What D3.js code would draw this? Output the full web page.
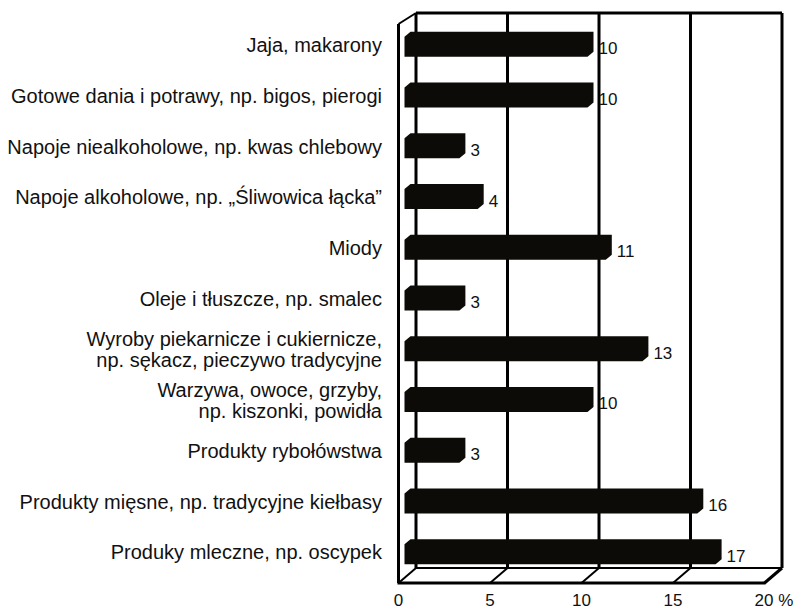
<!DOCTYPE html>
<html>
<head>
<meta charset="utf-8">
<script src="https://cdn.jsdelivr.net/npm/d3@7"></script>
<style>
  body { margin: 0; background: #fff; }
  text { font-family: "Liberation Sans", Arial, sans-serif; fill: #111; }
</style>
</head>
<body>
<div id="chart"></div>
<script>
// categories top to bottom, each entry is a list of label lines
const categories = [
    ["Jaja, makarony"],
    ["Gotowe dania i potrawy, np. bigos, pierogi"],
    ["Napoje niealkoholowe, np. kwas chlebowy"],
    ["Napoje alkoholowe, np. \u201E\u015Aliwowica \u0142\u0105cka\u201D"],
    ["Miody"],
    ["Oleje i t\u0142uszcze, np. smalec"],
    ["Wyroby piekarnicze i cukiernicze,", "np. s\u0119kacz, pieczywo tradycyjne"],
    ["Warzywa, owoce, grzyby,", "np. kiszonki, powid\u0142a"],
    ["Produkty rybo\u0142\u00F3wstwa"],
    ["Produkty mi\u0119sne, np. tradycyjne kie\u0142basy"],
    ["Produky mleczne, np. oscypek"]
];
const values = [10, 10, 3, 4, 11, 3, 13, 10, 3, 16, 17];
const ticks = [0, 5, 10, 15, 20];
const tickLabels = ["0", "5", "10", "15", "20 %"];

const width = 803, height = 611;
const svg = d3.select("#chart").append("svg")
    .attr("width", width)
    .attr("height", height);

// 3d box: back wall and front edge
const back = d3.scaleLinear().domain([0, 20]).range([416, 782]);
const depthX = -17.5, depthY = 15;
const front = v => back(v) + depthX;
const wallTop = 13, floorBack = 568, floorFront = floorBack + depthY;

const y = d3.scaleBand()
    .domain(d3.range(categories.length))
    .range([21.5, 579.5]);

// bars sit a bit behind the front edge
const barX = d3.scaleLinear().domain([0, 20]).range([front(0) + 6, front(20) + 6]);
const bdx = 6, bdy = 5, barH = 20;

// gridlines on back wall
svg.selectAll(".grid")
    .data(ticks)
    .enter()
    .append("line")
    .attr("x1", d => back(d))
    .attr("x2", d => back(d))
    .attr("y1", wallTop)
    .attr("y2", floorBack)
    .attr("stroke", "#000")
    .attr("stroke-width", 3);

// top of back wall
svg.append("line")
    .attr("x1", back(0)).attr("x2", back(20))
    .attr("y1", wallTop).attr("y2", wallTop)
    .attr("stroke", "#000").attr("stroke-width", 3);

// floor back edge
svg.append("line")
    .attr("x1", back(0)).attr("x2", back(20))
    .attr("y1", floorBack).attr("y2", floorBack)
    .attr("stroke", "#000").attr("stroke-width", 2);

// floor diagonals
svg.selectAll(".diag")
    .data(ticks)
    .enter()
    .append("line")
    .attr("x1", d => back(d))
    .attr("y1", floorBack)
    .attr("x2", d => front(d))
    .attr("y2", floorFront)
    .attr("stroke", "#000")
    .attr("stroke-width", d => d == 20 ? 3 : 2);

// front floor edge
svg.append("line")
    .attr("x1", front(0) - 1).attr("x2", front(20) + 1)
    .attr("y1", floorFront).attr("y2", floorFront)
    .attr("stroke", "#000").attr("stroke-width", 3);

// left wall front edge and its top diagonal
svg.append("line")
    .attr("x1", front(0)).attr("x2", front(0))
    .attr("y1", wallTop + depthY - 4).attr("y2", floorFront)
    .attr("stroke", "#000").attr("stroke-width", 3);
svg.append("line")
    .attr("x1", front(0)).attr("y1", wallTop + depthY - 4)
    .attr("x2", back(0)).attr("y2", wallTop)
    .attr("stroke", "#000").attr("stroke-width", 2);

// bars
svg.selectAll(".bar")
    .data(values)
    .enter()
    .append("path")
    .attr("d", (d, i) => {
        const cy = y(i) + y.bandwidth() / 2;
        const yb = cy + barH / 2, yt = cy - barH / 2;
        const x0 = barX(0), x1 = barX(d);
        return "M" + x0 + "," + yb +
            "L" + x0 + "," + yt +
            "L" + (x0 + bdx) + "," + (yt - bdy) +
            "L" + (x1 + bdx) + "," + (yt - bdy) +
            "L" + (x1 + bdx) + "," + (yb - bdy) +
            "L" + x1 + "," + yb + "Z";
    })
    .attr("fill", "#0d0b07");

// value labels
svg.selectAll(".val")
    .data(values)
    .enter()
    .append("text")
    .attr("x", d => barX(d) + bdx + 5)
    .attr("y", (d, i) => y(i) + y.bandwidth() / 2 + 3)
    .attr("dominant-baseline", "middle")
    .attr("font-size", 17)
    .text(d => d);

// category labels
const labels = svg.selectAll(".cat")
    .data(categories)
    .enter()
    .append("text")
    .attr("text-anchor", "end")
    .attr("font-size", 20)
    .attr("transform", (d, i) => "translate(382," + (y(i) + y.bandwidth() / 2) + ")");

labels.selectAll("tspan")
    .data(d => d.map((t, k) => ({ t: t, k: k, n: d.length })))
    .enter()
    .append("tspan")
    .attr("x", 0)
    .attr("y", d => (d.k - (d.n - 1) / 2) * 21)
    .attr("dominant-baseline", "middle")
    .text(d => d.t);

// x tick labels along the front floor edge
svg.selectAll(".tick")
    .data(ticks)
    .enter()
    .append("text")
    .attr("x", d => front(d))
    .attr("y", 606)
    .attr("text-anchor", (d, i) => i == ticks.length - 1 ? "start" : "middle")
    .attr("dx", (d, i) => i == ticks.length - 1 ? -10 : 0)
    .attr("font-size", 17)
    .text((d, i) => tickLabels[i]);
</script>
</body>
</html>
